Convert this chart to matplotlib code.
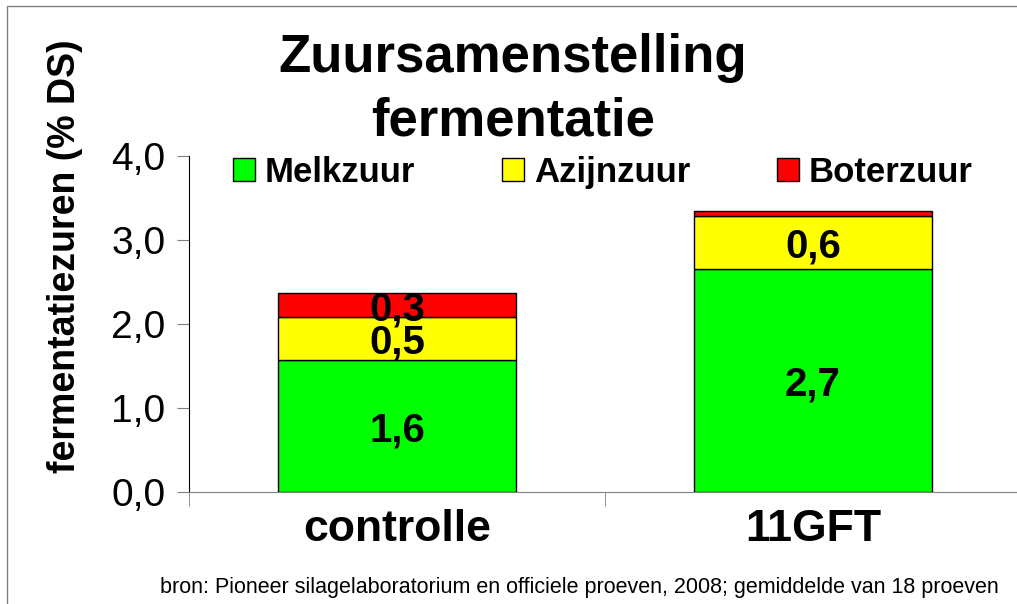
import matplotlib
matplotlib.use("Agg")
import matplotlib.pyplot as plt
from matplotlib.patches import Rectangle, Patch

plt.rcParams["font.family"] = ["Liberation Sans", "DejaVu Sans"]

categories = ["controlle", "11GFT"]
series_names = ["Melkzuur", "Azijnzuur", "Boterzuur"]
melkzuur = [1.57, 2.66]
azijnzuur = [0.51, 0.63]
boterzuur = [0.29, 0.05]
series_colors = ["#00FF00", "#FFFF00", "#FF0000"]
y_ticks = [0.0, 1.0, 2.0, 3.0, 4.0]

fig = plt.figure(figsize=(10.17, 6.04), dpi=100)
ax = fig.add_axes([189 / 1017, 112 / 604, 832 / 1017, 336 / 604])

x = list(range(len(categories)))
bottoms = [0.0] * len(categories)
for name, values, color in zip(series_names, [melkzuur, azijnzuur, boterzuur], series_colors):
    ax.bar(x, values, width=0.57, bottom=bottoms, color=color,
           edgecolor="black", linewidth=1.0, label=name)
    for xi, b, v in zip(x, bottoms, values):
        if v >= 0.1:
            ax.annotate(f"{v:.1f}".replace(".", ","), (xi, b + v / 2),
                        xytext=(0, -3), textcoords="offset points",
                        ha="center", va="center", fontsize=29, fontweight="bold")
    bottoms = [b + v for b, v in zip(bottoms, values)]

ax.set_xlim(-0.5, 1.5)
ax.set_ylim(0, 4)
ax.set_yticks(y_ticks)
ax.set_yticklabels([f"{t:.1f}".replace(".", ",") for t in y_ticks], fontsize=28)
ax.set_xticks(x)
ax.set_xticklabels(categories, fontsize=32, fontweight="bold")
ax.set_xticks([-0.5, 0.5, 1.5], minor=True)
ax.tick_params(axis="x", which="major", length=0, pad=12)
ax.tick_params(axis="x", which="minor", length=10, color="#808080", direction="out")
ax.tick_params(axis="y", length=9, color="#808080", direction="out", pad=8)

for side in ["top", "right"]:
    ax.spines[side].set_visible(False)
ax.spines["left"].set_color("black")
ax.spines["bottom"].set_color("#808080")

handles = [Patch(facecolor=c, edgecolor="black", linewidth=1.0) for c in series_colors]
ax.legend(handles, series_names, ncol=3, loc="center", bbox_to_anchor=(0.4976, 0.952),
          frameon=False, prop={"size": 25, "weight": "bold"},
          handlelength=0.62, handleheight=0.62, handletextpad=0.3, columnspacing=2.5,
          borderpad=0.1)

fig.text(65 / 1017, 1 - 256 / 604, "fermentatiezuren (% DS)", rotation=90,
         ha="center", va="center", fontsize=27, fontweight="bold")
fig.text(513 / 1017, 1 - 72 / 604, "Zuursamenstelling", ha="center", va="baseline",
         fontsize=38, fontweight="bold")
fig.text(513 / 1017, 1 - 135 / 604, "fermentatie", ha="center", va="baseline",
         fontsize=38, fontweight="bold")
fig.text(579 / 1017, 1 - 593 / 604,
         "bron: Pioneer silagelaboratorium en officiele proeven, 2008; gemiddelde van 18 proeven",
         ha="center", va="baseline", fontsize=15.5)

fig.patches.append(Rectangle((7 / 1017, -0.1), 1.2, 1.1 - 6 / 604, transform=fig.transFigure,
                             fill=False, edgecolor="#808080", linewidth=1.0))

fig.savefig("out.png", dpi=100)
